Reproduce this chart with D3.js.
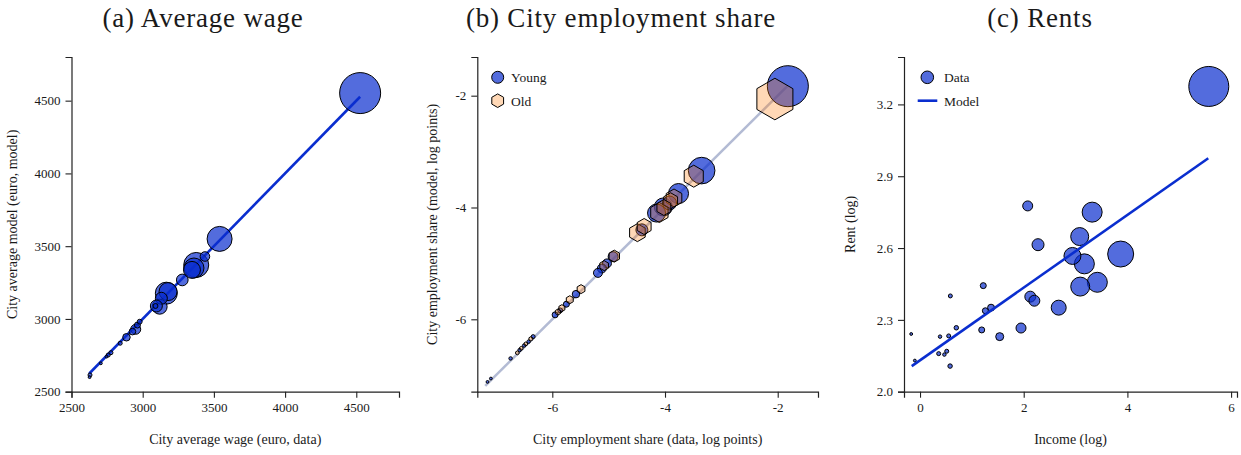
<!DOCTYPE html>
<html><head><meta charset="utf-8">
<script src="https://cdn.jsdelivr.net/npm/d3@7"></script>
<style>
body{margin:0;background:#fff}
text{font-family:"Liberation Serif","Times New Roman",serif;fill:#1a1a1a}
</style>
</head><body>
<svg id="chart" width="1241" height="455"></svg>
<script>
// ---------- Panel (a): average wage ----------
const wageData   = [4527,3540,3437,3376,3346,3360,3278,3166,3178,3131,3119,3096,3090,2951,2928,2979,2963,2886,2842,2777,2758,2746,2706,2630,2627];
const wageModel  = [4552,3550,3429,3371,3337,3350,3268,3177,3188,3142,3084,3089,3089,2929,2913,2981,2958,2874,2833,2768,2752,2741,2695,2615,2600];
const wageWeight = [420,156,23,156,72,100,34,121,81,36,56,36,6,25,11,6,9,14,4,4,4,2,2,4,2];
const wageFitX = [2625,4527];
const wageFitY = [2625,4527];
const wageTicks = [2500,3000,3500,4000,4500];

// ---------- Panel (b): city employment share ----------
const youngData   = [-1.82,-3.35,-3.76,-4.03,-4.15,-3.92,-4.41,-4.92,-5.03,-5.12,-5.19,-5.58,-5.75,-5.95,-5.86,-6.34,-6.42,-6.50,-6.58,-6.74,-7.09,-7.15];
const youngModel  = [-1.83,-3.34,-3.75,-3.99,-4.10,-3.92,-4.40,-4.88,-5.00,-5.09,-5.17,-5.55,-5.73,-5.92,-5.84,-6.31,-6.40,-6.47,-6.55,-6.70,-7.06,-7.12];
const youngWeight = [420,177,100,81,81,49,36,25,20,20,20,14,9,9,6,4,3,3,3,3,2,2];
const oldData   = [-2.05,-3.49,-3.84,-3.90,-4.10,-4.02,-4.49,-4.37,-4.90,-5.08,-5.49,-5.69,-5.83,-5.90,-6.38,-6.47,-6.55,-6.62];
const oldModel  = [-2.06,-3.44,-3.83,-3.88,-4.09,-4.00,-4.45,-4.34,-4.87,-5.04,-5.46,-5.65,-5.80,-5.87,-6.35,-6.44,-6.52,-6.60];
const oldWeight = [432,121,81,64,100,64,81,64,36,25,20,16,12,9,5,4,4,4];
const shareFit = [-7.19,-1.82];
const shareTicks = [-6,-4,-2];
const shareLegend = ["Young","Old"];

// ---------- Panel (c): rents ----------
const income = [5.57,2.077,3.32,3.08,2.276,2.94,3.87,3.17,3.42,3.09,2.127,2.205,2.675,1.948,1.537,1.22,1.26,1.37,1.19,0.70,0.585,0.553,0.386,0.36,0.47,0.515,0.58,-0.17,-0.10];
const rent   = [3.275,2.776,2.75,2.648,2.614,2.567,2.575,2.534,2.457,2.439,2.397,2.380,2.351,2.266,2.230,2.443,2.338,2.351,2.258,2.267,2.40,2.233,2.230,2.159,2.155,2.169,2.107,2.241,2.13];
const pop    = [400,25,100,81,36,72,169,100,100,90,30,30,56,25,16,9,9,12,9,5,4,4,3,4,3,4,5,2,2];
const rentFitX = [-0.16,5.56];
const rentFitY = [2.107,2.975];
const incomeTicks = [0,2,4,6];
const rentTicks = [2.0,2.3,2.6,2.9,3.2];
const rentLegend = ["Data","Model"];

const titles = ["(a) Average wage","(b) City employment share","(c) Rents"];
const xLabels = ["City average wage (euro, data)","City employment share (data, log points)","Income (log)"];
const yLabels = ["City average model (euro, model)","City employment share (model, log points)","Rent (log)"];

// ---------- styles ----------
const BLUE = "#0a2ecf";
const ORANGE = "#ff7f0e";
const GREYLINE = "#b3bbd4";
const TOP = 57, BOTTOM = 391.7;
const ylabOff = [55,40,49];
const titleX = [203,621,1040];

const svg = d3.select("#chart");

function axes(xs, ys, xt, yt, xf, yf, i) {
  const g = svg.append("g");
  const xa = g.append("g").attr("transform",`translate(0,${BOTTOM})`)
    .call(d3.axisBottom(xs).tickValues(xt).tickFormat(xf).tickSizeOuter(0).tickSize(6).tickPadding(5));
  const ya = g.append("g").attr("transform",`translate(${xs.range()[0]},0)`)
    .call(d3.axisLeft(ys).tickValues(yt).tickFormat(yf).tickSizeOuter(0).tickSize(6).tickPadding(5));
  [xa,ya].forEach(a=>{
    a.select(".domain").attr("stroke","#222").attr("stroke-width",1.2);
    a.selectAll(".tick line").attr("stroke","#222").attr("stroke-width",1.1);
    a.selectAll(".tick text").attr("font-size",13).attr("font-family","Liberation Serif").attr("fill","#222");
  });
  const [x0,x1] = xs.range();
  svg.append("text").attr("x",titleX[i]).attr("y",27).attr("text-anchor","middle")
    .attr("font-size",27).attr("letter-spacing",0.8).text(titles[i]);
  svg.append("text").attr("x",(x0+x1)/2).attr("y",444).attr("text-anchor","middle")
    .attr("font-size",14).text(xLabels[i]);
  svg.append("text").attr("transform",`translate(${x0-ylabOff[i]},${(TOP+BOTTOM)/2}) rotate(-90)`)
    .attr("text-anchor","middle").attr("font-size",14).text(yLabels[i]);
}

// ---------- Panel (a) ----------
{
  const x = d3.scaleLinear().domain([2500,4800]).range([71.5,399]);
  const y = d3.scaleLinear().domain([2500,4800]).range([BOTTOM,TOP]);
  const r = d3.scaleSqrt().domain([0,420]).range([0,20.5]);
  axes(x,y,wageTicks,wageTicks,d3.format("d"),d3.format("d"),0);
  svg.append("path").datum(d3.zip(wageFitX,wageFitY))
    .attr("d",d3.line().x(d=>x(d[0])).y(d=>y(d[1])))
    .attr("stroke",BLUE).attr("stroke-width",2.6).attr("fill","none");
  const pts = d3.range(wageData.length).sort((a,b)=>wageWeight[b]-wageWeight[a]);
  svg.append("g").selectAll("circle").data(pts).join("circle")
    .attr("cx",i=>x(wageData[i])).attr("cy",i=>y(wageModel[i])).attr("r",i=>r(wageWeight[i]))
    .attr("fill",BLUE).attr("fill-opacity",0.7).attr("stroke","#000").attr("stroke-width",1);
}

// ---------- Panel (b) ----------
function hexPath(cx,cy,R){
  const p = d3.range(6).map(k=>{const a=(-90+60*k)*Math.PI/180;return [cx+R*Math.cos(a),cy+R*Math.sin(a)];});
  return "M"+p.map(q=>q.join(",")).join("L")+"Z";
}
{
  const x = d3.scaleLinear().domain([-7.331,-1.285]).range([477.3,818]);
  const y = d3.scaleLinear().domain([-7.295,-1.308]).range([BOTTOM,TOP]);
  const r = d3.scaleSqrt().domain([0,420]).range([0,20.5]);
  const fmt = d => d3.format("d")(d).replace("\u2212","-");
  axes(x,y,shareTicks,shareTicks,fmt,fmt,1);
  svg.append("path").datum(shareFit)
    .attr("d",d3.line().x(d=>x(d)).y(d=>y(d)))
    .attr("stroke",GREYLINE).attr("stroke-width",2.6).attr("fill","none");
  const yi = d3.range(youngData.length).sort((a,b)=>youngWeight[b]-youngWeight[a]);
  svg.append("g").selectAll("circle").data(yi).join("circle")
    .attr("cx",i=>x(youngData[i])).attr("cy",i=>y(youngModel[i])).attr("r",i=>r(youngWeight[i]))
    .attr("fill",BLUE).attr("fill-opacity",0.7).attr("stroke","#000").attr("stroke-width",1);
  const oi = d3.range(oldData.length).sort((a,b)=>oldWeight[b]-oldWeight[a]);
  svg.append("g").selectAll("path").data(oi).join("path")
    .attr("d",i=>hexPath(x(oldData[i]),y(oldModel[i]),r(oldWeight[i])))
    .attr("fill",ORANGE).attr("fill-opacity",0.3).attr("stroke","#000").attr("stroke-width",1);
  // legend
  const lg = svg.append("g");
  lg.append("circle").attr("cx",497.7).attr("cy",77.3).attr("r",6)
    .attr("fill",BLUE).attr("fill-opacity",0.7).attr("stroke","#000").attr("stroke-width",1);
  lg.append("path").attr("d",hexPath(497.7,100.7,6.8))
    .attr("fill",ORANGE).attr("fill-opacity",0.3).attr("stroke","#000").attr("stroke-width",1);
  lg.selectAll("text").data(shareLegend).join("text")
    .attr("x",511).attr("y",(d,i)=>[82,105.5][i]).attr("font-size",13.5).text(d=>d);
}

// ---------- Panel (c) ----------
{
  const x = d3.scaleLinear().domain([-0.309,6.114]).range([904,1237]);
  const y = d3.scaleLinear().domain([2.0,3.398]).range([BOTTOM,TOP]);
  const r = d3.scaleSqrt().domain([0,400]).range([0,20]);
  axes(x,y,incomeTicks,rentTicks,d3.format("d"),d3.format(".1f"),2);
  const pi = d3.range(income.length).sort((a,b)=>pop[b]-pop[a]);
  svg.append("g").selectAll("circle").data(pi).join("circle")
    .attr("cx",i=>x(income[i])).attr("cy",i=>y(rent[i])).attr("r",i=>r(pop[i]))
    .attr("fill",BLUE).attr("fill-opacity",0.7).attr("stroke","#000").attr("stroke-width",1);
  svg.append("path").datum(d3.zip(rentFitX,rentFitY))
    .attr("d",d3.line().x(d=>x(d[0])).y(d=>y(d[1])))
    .attr("stroke",BLUE).attr("stroke-width",2.6).attr("fill","none");
  const lg = svg.append("g");
  lg.append("circle").attr("cx",927.3).attr("cy",77.3).attr("r",6.3)
    .attr("fill",BLUE).attr("fill-opacity",0.7).attr("stroke","#000").attr("stroke-width",1);
  lg.append("line").attr("x1",917.7).attr("x2",937.3).attr("y1",100.7).attr("y2",100.7)
    .attr("stroke",BLUE).attr("stroke-width",2.6);
  lg.selectAll("text").data(rentLegend).join("text")
    .attr("x",944).attr("y",(d,i)=>[82,105.5][i]).attr("font-size",13.5).text(d=>d);
}
</script>
</body></html>
